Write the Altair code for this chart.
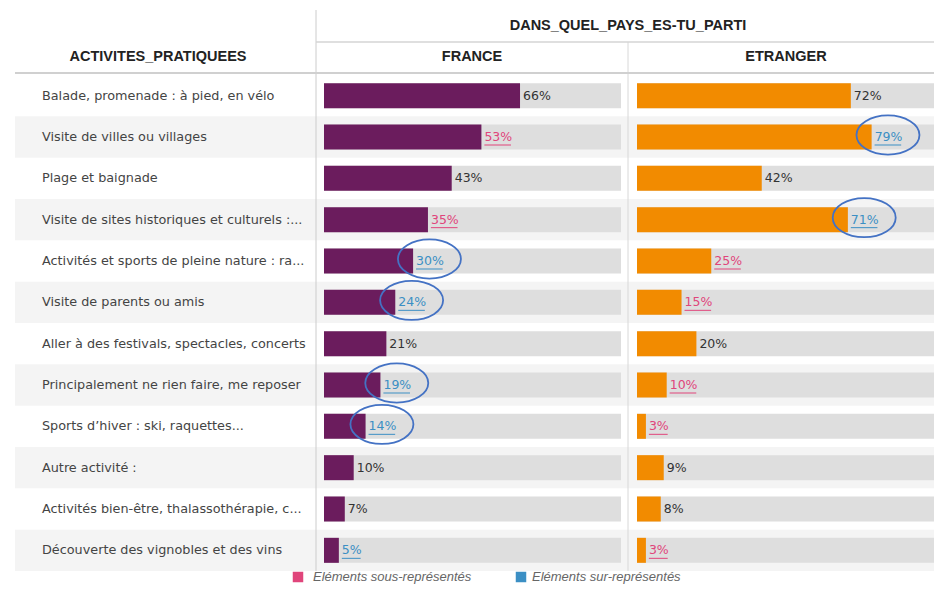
import altair as alt
import pandas as pd

activities = [
    "Balade, promenade : à pied, en vélo",
    "Visite de villes ou villages",
    "Plage et baignade",
    "Visite de sites historiques et culturels :...",
    "Activités et sports de pleine nature : ra...",
    "Visite de parents ou amis",
    "Aller à des festivals, spectacles, concerts",
    "Principalement ne rien faire, me reposer",
    "Sports d’hiver : ski, raquettes...",
    "Autre activité :",
    "Activités bien-être, thalassothérapie, c...",
    "Découverte des vignobles et des vins",
]
france = [66, 53, 43, 35, 30, 24, 21, 19, 14, 10, 7, 5]
etranger = [72, 79, 42, 71, 25, 15, 20, 10, 3, 9, 8, 3]
france_sig = ["none", "sous", "none", "sous", "sur", "sur", "none", "sur", "sur", "none", "none", "sur"]
etranger_sig = ["none", "sur", "none", "sur", "sous", "sous", "none", "sous", "sous", "none", "none", "sous"]
france_circled = [0, 0, 0, 0, 1, 1, 0, 1, 1, 0, 0, 0]
etranger_circled = [0, 1, 0, 1, 0, 0, 0, 0, 0, 0, 0, 0]

col_title = "DANS_QUEL_PAYS_ES-TU_PARTI"
row_title = "ACTIVITES_PRATIQUEES"
countries = ["FRANCE", "ETRANGER"]
legend_labels = ["Eléments sous-représentés", "Eléments sur-représentés"]

PURPLE = "#6b1c5d"
ORANGE = "#f28b00"
PINK = "#e0457b"
BLUE = "#3b8fc4"

rows = []
for i, a in enumerate(activities):
    rows.append(dict(activity=a, idx=i, country="FRANCE", value=france[i],
                     sig=france_sig[i], circled=france_circled[i]))
    rows.append(dict(activity=a, idx=i, country="ETRANGER", value=etranger[i],
                     sig=etranger_sig[i], circled=etranger_circled[i]))
df = pd.DataFrame(rows)
df["label"] = df["value"].astype(str) + "%"
rowdf = pd.DataFrame({"activity": activities, "idx": list(range(len(activities)))})

W, H = 926, 576
yenc = alt.Y("activity:N", sort=activities,
             scale=alt.Scale(range=[67, 563], paddingInner=0, paddingOuter=0),
             axis=None)

base_rows = alt.Chart(rowdf)
shade = base_rows.transform_filter("datum.idx % 2 == 1").mark_rect(color="#f4f4f4").encode(
    y=yenc, x=alt.value(7), x2=alt.value(W))
row_labels = base_rows.mark_text(align="left", baseline="middle", font="DejaVu Sans",
                                 fontSize=12.8, color="#444").encode(
    y=yenc, x=alt.value(34), text="activity:N")

sig_color = alt.Scale(domain=["none", "sous", "sur"], range=["#333333", PINK, BLUE])

def country_layers(name, color, rng):
    sc = alt.Scale(domain=[0, 100], range=rng)
    b = alt.Chart(df).transform_filter(alt.datum.country == name)
    track = b.mark_bar(size=25, color="#dedede").encode(
        y=yenc, x=alt.X("zero:Q", scale=sc, axis=None), x2="hundred:Q"
    ).transform_calculate(zero="0", hundred="100")
    bar = b.mark_bar(size=25, color=color).encode(
        y=yenc, x=alt.X("value:Q", scale=sc, axis=None), x2=alt.datum(0))
    lab = b.mark_text(align="left", baseline="middle", dx=3, font="DejaVu Sans",
                      fontSize=12.5).encode(
        y=yenc, x=alt.X("value:Q", scale=sc, axis=None), text="label:N",
        color=alt.Color("sig:N", scale=sig_color, legend=None))
    ul = b.transform_filter("datum.sig != 'none'").transform_calculate(
        u0="datum.value + 1.0",
        u1="datum.value + 1.0 + (7.8 * (length(datum.label) - 1) + 11.0) / 2.97"
    ).mark_rule(yOffset=8, strokeWidth=1).encode(
        y=yenc, x=alt.X("u0:Q", scale=sc, axis=None), x2="u1:Q",
        color=alt.Color("sig:N", scale=sig_color, legend=None))
    ell = b.transform_filter("datum.circled == 1").transform_calculate(
        ex="datum.value + 5.5"
    ).mark_point(shape="M-1,0A1,0.62,0,1,1,1,0A1,0.62,0,1,1,-1,0Z", size=3969,
                 filled=False, stroke="#4472c4", strokeWidth=1.8, yOffset=-2, opacity=1).encode(
        y=yenc, x=alt.X("ex:Q", scale=sc, axis=None))
    return [track, bar, lab, ul, ell]

fr_layers = country_layers("FRANCE", PURPLE, [316, 613])
et_layers = country_layers("ETRANGER", ORANGE, [629, 926])

one = alt.Chart(pd.DataFrame({"k": [0]}))
vline1 = one.mark_rule(color="#cccccc").encode(x=alt.value(308), y=alt.value(2), y2=alt.value(563))
vline2 = one.mark_rule(color="#d8d8d8").encode(x=alt.value(620), y=alt.value(34), y2=alt.value(563))
hline1 = one.mark_rule(color="#d5d5d5", strokeWidth=1.5).encode(x=alt.value(308), x2=alt.value(W), y=alt.value(34))
hline2 = one.mark_rule(color="#d0d0d0", strokeWidth=2).encode(x=alt.value(7), x2=alt.value(W), y=alt.value(65))

hdr_font = dict(font="Liberation Sans", fontWeight="bold", fontSize=14.5, color="#222",
                baseline="middle", align="center")
t_col = one.mark_text(**hdr_font, text=col_title).encode(x=alt.value(620), y=alt.value(18))
t_row = one.mark_text(**hdr_font, text=row_title).encode(x=alt.value(150), y=alt.value(49))
t_fr = one.mark_text(**hdr_font, text=countries[0]).encode(x=alt.value(464), y=alt.value(49))
t_et = one.mark_text(**hdr_font, text=countries[1]).encode(x=alt.value(778), y=alt.value(49))

leg_font = dict(font="Liberation Sans", fontStyle="italic", fontSize=13, color="#666",
                baseline="middle", align="left")
sq1 = one.mark_square(size=110, color=PINK, opacity=1).encode(x=alt.value(290), y=alt.value(569))
sq2 = one.mark_square(size=110, color=BLUE, opacity=1).encode(x=alt.value(513), y=alt.value(569))
lt1 = one.mark_text(**leg_font, text=legend_labels[0]).encode(x=alt.value(305), y=alt.value(569))
lt2 = one.mark_text(**leg_font, text=legend_labels[1]).encode(x=alt.value(524), y=alt.value(569))

chart = alt.layer(
    shade, row_labels, *fr_layers, *et_layers,
    vline1, vline2, hline1, hline2, t_col, t_row, t_fr, t_et, sq1, sq2, lt1, lt2
).resolve_scale(x="independent").properties(
    width=W, height=H, padding=0, autosize=alt.AutoSizeParams(type="none"),
    background="white"
).configure_view(stroke=None)

chart.save("out.html", embed_options={"renderer": "svg", "actions": False})
